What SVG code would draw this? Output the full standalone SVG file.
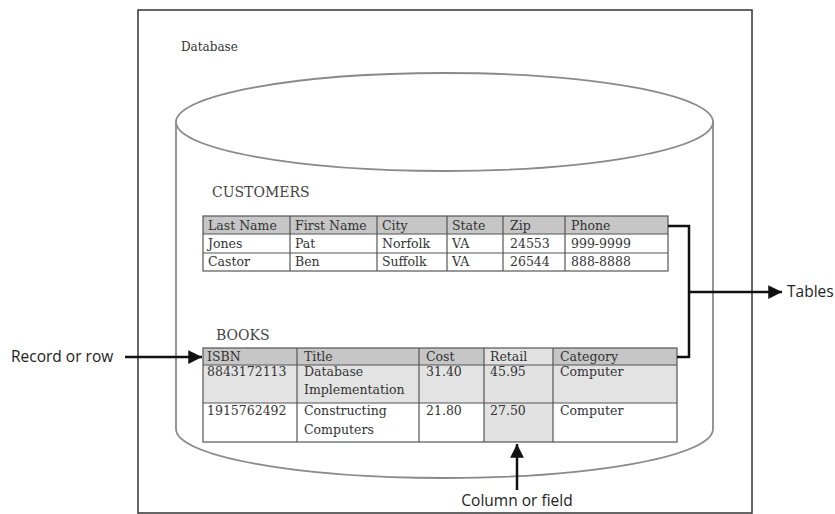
<svg xmlns="http://www.w3.org/2000/svg" width="835" height="514" viewBox="0 0 835 514">
<style>
.frame{fill:#fff;stroke:#333;stroke-width:1.5}
.cyl{fill:none;stroke:#8a8a8a;stroke-width:1.8}
.cell{stroke:#555;stroke-width:1.2}
.hdr{fill:#c6c6c6}
.r1{fill:#e3e3e3}
.wh{fill:#fff}
.col{fill:#e2e2e2}
.t{font-family:"DejaVu Serif","Liberation Serif",serif;font-size:12.5px;fill:#333}
.cap{font-family:"DejaVu Serif","Liberation Serif",serif;font-size:14px;fill:#444}
.db{font-family:"DejaVu Serif","Liberation Serif",serif;font-size:12px;fill:#333}
.lbl{font-family:"Open Sans","Noto Sans",sans-serif;font-size:15.5px;fill:#222}
.con{fill:none;stroke:#111;stroke-width:2.5}
</style>
<defs>
<marker id="ah" viewBox="0 0 10 10" refX="10" refY="5" markerWidth="6.5" markerHeight="5.5" markerUnits="strokeWidth" orient="auto">
<path d="M0,0 L10,5 L0,10 z" fill="#111"/>
</marker>
</defs>
<rect width="835" height="514" fill="#fff"/>
<g id="database">
<rect class="frame" x="138" y="10" width="614" height="503"/>
<text class="db" x="181" y="51">Database</text>
<path class="cyl" d="M176,122 A268.5,49 0 0 1 713,122 A268.5,49 0 0 1 176,122 Z"/>
<path class="cyl" d="M176,122 L176,429 A268.5,49 0 0 0 713,429 L713,122"/>
</g>
<g id="customers">
<text class="cap" x="212" y="197">CUSTOMERS</text>
<rect class="hdr" x="203" y="216" width="465" height="18"/>
<rect class="wh" x="203" y="234" width="465" height="37"/>
<g class="cell" fill="none">
<rect x="203" y="216" width="465" height="55"/>
<line x1="203" y1="234" x2="668" y2="234"/>
<line x1="203" y1="253" x2="668" y2="253"/>
<line x1="290" y1="216" x2="290" y2="271"/>
<line x1="377" y1="216" x2="377" y2="271"/>
<line x1="447" y1="216" x2="447" y2="271"/>
<line x1="503" y1="216" x2="503" y2="271"/>
<line x1="565" y1="216" x2="565" y2="271"/>
</g>
<g class="t">
<text x="208" y="230">Last Name</text><text x="295" y="230">First Name</text><text x="382" y="230">City</text><text x="452" y="230">State</text><text x="510" y="230">Zip</text><text x="571" y="230">Phone</text>
<text x="208" y="248">Jones</text><text x="295" y="248">Pat</text><text x="382" y="248">Norfolk</text><text x="452" y="248">VA</text><text x="510" y="248">24553</text><text x="571" y="248">999-9999</text>
<text x="208" y="266">Castor</text><text x="295" y="266">Ben</text><text x="382" y="266">Suffolk</text><text x="452" y="266">VA</text><text x="510" y="266">26544</text><text x="571" y="266">888-8888</text>
</g>
</g>
<g id="books">
<text class="cap" x="216" y="340">BOOKS</text>
<rect class="hdr" x="203" y="348" width="474" height="17"/>
<rect class="r1" x="203" y="365" width="474" height="38"/>
<rect class="wh" x="203" y="403" width="474" height="39"/>
<rect class="col" x="484" y="348" width="69" height="94"/>
<g class="cell" fill="none">
<rect x="203" y="348" width="474" height="94"/>
<line x1="203" y1="365" x2="677" y2="365"/>
<line x1="203" y1="403" x2="677" y2="403"/>
<line x1="297" y1="348" x2="297" y2="442"/>
<line x1="419" y1="348" x2="419" y2="442"/>
<line x1="484" y1="348" x2="484" y2="442"/>
<line x1="553" y1="348" x2="553" y2="442"/>
</g>
<g class="t">
<text x="207" y="361">ISBN</text><text x="304" y="361">Title</text><text x="426" y="361">Cost</text><text x="490" y="361">Retail</text><text x="560" y="361">Category</text>
<text x="207" y="376">8843172113</text><text x="304" y="376">Database</text><text x="304" y="394">Implementation</text><text x="426" y="376">31.40</text><text x="490" y="376">45.95</text><text x="560" y="376">Computer</text>
<text x="207" y="415">1915762492</text><text x="304" y="415">Constructing</text><text x="304" y="434">Computers</text><text x="426" y="415">21.80</text><text x="490" y="415">27.50</text><text x="560" y="415">Computer</text>
</g>
</g>
<g id="connectors">
<line class="con" x1="125" y1="357" x2="202" y2="357" marker-end="url(#ah)"/>
<polyline class="con" points="668,226 689,226 689,357 677,357"/>
<line class="con" x1="689" y1="292" x2="782" y2="292" marker-end="url(#ah)"/>
<line class="con" x1="517" y1="490" x2="517" y2="444" marker-end="url(#ah)"/>
</g>
<g id="labels">
<text class="lbl" x="11" y="362">Record or row</text>
<text class="lbl" x="787" y="297">Tables</text>
<text class="lbl" x="517" y="506" text-anchor="middle">Column or field</text>
</g>
</svg>
